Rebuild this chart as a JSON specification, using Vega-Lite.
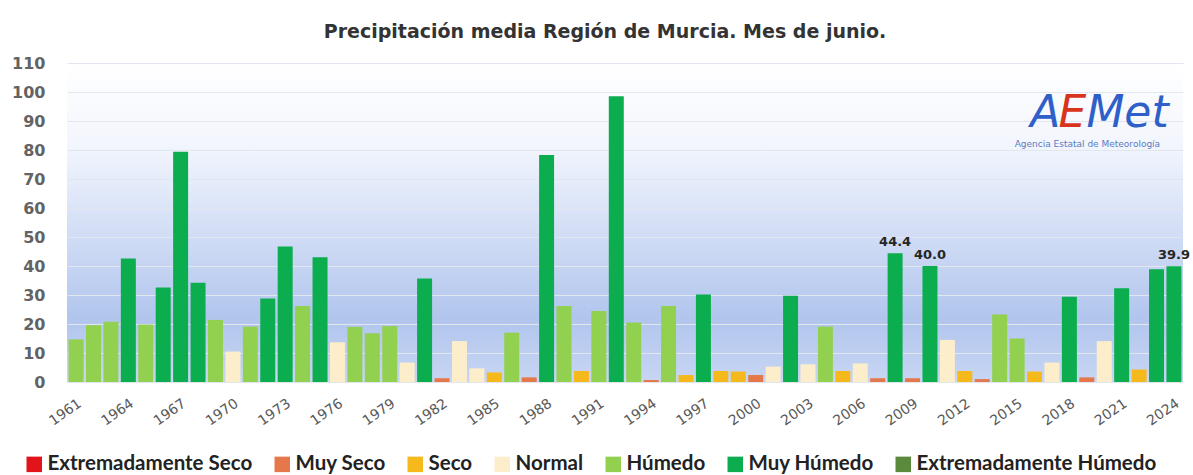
{
  "$schema": "https://vega.github.io/schema/vega-lite/v6.json",
  "autosize": {"type": "none"},
  "padding": {"left": 67, "top": 63, "right": 10, "bottom": 93},
  "width": 1116,
  "height": 319,
  "background": "#ffffff",
  "view": {
    "stroke": null,
    "fill": {"gradient": "linear", "x1": 0, "y1": 0, "x2": 0, "y2": 1,
      "stops": [
        {"offset": 0, "color": "#ffffff"},
        {"offset": 0.25, "color": "#f3f6fd"},
        {"offset": 0.55, "color": "#d0dcf5"},
        {"offset": 0.8, "color": "#b1c5ed"},
        {"offset": 1, "color": "#c8d6f3"}
      ]}
  },
  "title": {
    "text": "Precipitación media Región de Murcia. Mes de junio.",
    "font": "DejaVu Sans",
    "fontSize": 19,
    "fontWeight": "bold",
    "color": "#333333",
    "anchor": "middle",
    "dx": -20,
    "offset": 13
  },
  "data": {
    "values": [
      {"year": 1961, "value": 14.7, "cat": "Húmedo"},
      {"year": 1962, "value": 19.6, "cat": "Húmedo"},
      {"year": 1963, "value": 20.8, "cat": "Húmedo"},
      {"year": 1964, "value": 42.6, "cat": "Muy Húmedo"},
      {"year": 1965, "value": 19.8, "cat": "Húmedo"},
      {"year": 1966, "value": 32.6, "cat": "Muy Húmedo"},
      {"year": 1967, "value": 79.4, "cat": "Muy Húmedo"},
      {"year": 1968, "value": 34.2, "cat": "Muy Húmedo"},
      {"year": 1969, "value": 21.4, "cat": "Húmedo"},
      {"year": 1970, "value": 10.5, "cat": "Normal"},
      {"year": 1971, "value": 19.1, "cat": "Húmedo"},
      {"year": 1972, "value": 28.8, "cat": "Muy Húmedo"},
      {"year": 1973, "value": 46.7, "cat": "Muy Húmedo"},
      {"year": 1974, "value": 26.2, "cat": "Húmedo"},
      {"year": 1975, "value": 43.0, "cat": "Muy Húmedo"},
      {"year": 1976, "value": 13.7, "cat": "Normal"},
      {"year": 1977, "value": 19.0, "cat": "Húmedo"},
      {"year": 1978, "value": 16.8, "cat": "Húmedo"},
      {"year": 1979, "value": 19.3, "cat": "Húmedo"},
      {"year": 1980, "value": 6.7, "cat": "Normal"},
      {"year": 1981, "value": 35.7, "cat": "Muy Húmedo"},
      {"year": 1982, "value": 1.3, "cat": "Muy Seco"},
      {"year": 1983, "value": 14.1, "cat": "Normal"},
      {"year": 1984, "value": 4.7, "cat": "Normal"},
      {"year": 1985, "value": 3.3, "cat": "Seco"},
      {"year": 1986, "value": 17.0, "cat": "Húmedo"},
      {"year": 1987, "value": 1.6, "cat": "Muy Seco"},
      {"year": 1988, "value": 78.3, "cat": "Muy Húmedo"},
      {"year": 1989, "value": 26.2, "cat": "Húmedo"},
      {"year": 1990, "value": 3.8, "cat": "Seco"},
      {"year": 1991, "value": 24.5, "cat": "Húmedo"},
      {"year": 1992, "value": 98.5, "cat": "Muy Húmedo"},
      {"year": 1993, "value": 20.5, "cat": "Húmedo"},
      {"year": 1994, "value": 0.7, "cat": "Muy Seco"},
      {"year": 1995, "value": 26.2, "cat": "Húmedo"},
      {"year": 1996, "value": 2.4, "cat": "Seco"},
      {"year": 1997, "value": 30.2, "cat": "Muy Húmedo"},
      {"year": 1998, "value": 3.8, "cat": "Seco"},
      {"year": 1999, "value": 3.6, "cat": "Seco"},
      {"year": 2000, "value": 2.4, "cat": "Muy Seco"},
      {"year": 2001, "value": 5.3, "cat": "Normal"},
      {"year": 2002, "value": 29.7, "cat": "Muy Húmedo"},
      {"year": 2003, "value": 6.1, "cat": "Normal"},
      {"year": 2004, "value": 19.1, "cat": "Húmedo"},
      {"year": 2005, "value": 3.8, "cat": "Seco"},
      {"year": 2006, "value": 6.4, "cat": "Normal"},
      {"year": 2007, "value": 1.3, "cat": "Muy Seco"},
      {"year": 2008, "value": 44.4, "cat": "Muy Húmedo"},
      {"year": 2009, "value": 1.3, "cat": "Muy Seco"},
      {"year": 2010, "value": 40.0, "cat": "Muy Húmedo"},
      {"year": 2011, "value": 14.5, "cat": "Normal"},
      {"year": 2012, "value": 3.8, "cat": "Seco"},
      {"year": 2013, "value": 1.0, "cat": "Muy Seco"},
      {"year": 2014, "value": 23.3, "cat": "Húmedo"},
      {"year": 2015, "value": 15.0, "cat": "Húmedo"},
      {"year": 2016, "value": 3.6, "cat": "Seco"},
      {"year": 2017, "value": 6.7, "cat": "Normal"},
      {"year": 2018, "value": 29.4, "cat": "Muy Húmedo"},
      {"year": 2019, "value": 1.6, "cat": "Muy Seco"},
      {"year": 2020, "value": 14.1, "cat": "Normal"},
      {"year": 2021, "value": 32.3, "cat": "Muy Húmedo"},
      {"year": 2022, "value": 4.3, "cat": "Seco"},
      {"year": 2023, "value": 38.9, "cat": "Muy Húmedo"},
      {"year": 2024, "value": 39.9, "cat": "Muy Húmedo"}
    ]
  },
  "encoding": {
    "x": {
      "field": "year",
      "type": "ordinal",
      "scale": {"paddingInner": 0.14, "paddingOuter": 0.09},
      "axis": {
        "title": null,
        "values": [1961, 1964, 1967, 1970, 1973, 1976, 1979, 1982, 1985, 1988, 1991, 1994, 1997, 2000, 2003, 2006, 2009, 2012, 2015, 2018, 2021, 2024],
        "labelAngle": -35,
        "labelFont": "DejaVu Sans",
        "labelFontSize": 14,
        "labelColor": "#595959",
        "labelPadding": 14,
        "ticks": false,
        "domain": false,
        "grid": false
      }
    }
  },
  "layer": [
    {
      "mark": {"type": "bar"},
      "encoding": {
        "y": {
          "field": "value",
          "type": "quantitative",
          "scale": {"domain": [0, 110], "nice": false},
          "axis": {
            "title": null,
            "values": [0, 10, 20, 30, 40, 50, 60, 70, 80, 90, 100, 110],
            "tickCount": 20,
            "labelOverlap": false,
            "labelBound": false,
            "labelFont": "DejaVu Sans",
            "labelFontSize": 16,
            "labelFontWeight": "bold",
            "labelColor": "#636363",
            "labelPadding": 22,
            "ticks": false,
            "domain": false,
            "grid": true,
            "gridColor": "#e1e6ef",
            "gridWidth": 1.2
          }
        },
        "color": {
          "field": "cat",
          "type": "nominal",
          "scale": {
            "domain": ["Extremadamente Seco", "Muy Seco", "Seco", "Normal", "Húmedo", "Muy Húmedo", "Extremadamente Húmedo"],
            "range": ["#e3131b", "#e4784a", "#f6b91c", "#fdeecb", "#92d050", "#0cad4e", "#5b8a3c"]
          },
          "legend": {
            "title": null,
            "orient": "none",
            "direction": "horizontal",
            "columns": 7,
            "legendX": -43,
            "legendY": 391,
            "symbolType": "square",
            "symbolSize": 240,
            "symbolStrokeWidth": 0,
            "symbolOpacity": 1,
            "labelFont": "Lato",
            "labelFontSize": 20.5,
            "labelFontWeight": "bold",
            "labelColor": "#222222",
            "labelOffset": 3,
            "columnPadding": 19,
            "labelLimit": 400
          }
        }
      }
    },
    {
      "transform": [{"filter": "datum.year == 2008 || datum.year == 2010 || datum.year == 2024"}],
      "mark": {"type": "text", "font": "DejaVu Sans", "fontSize": 13, "fontWeight": "bold", "color": "#262626", "baseline": "bottom", "dy": -4},
      "encoding": {
        "y": {"field": "value", "type": "quantitative"},
        "text": {"field": "value", "type": "quantitative", "format": ".1f"}
      }
    },
    {
      "data": {"values": [{}]},
      "mark": {"type": "text", "font": "DejaVu Sans", "fontStyle": "italic", "fontWeight": 300, "fontSize": 44, "color": "#2f5fc8", "align": "right", "baseline": "alphabetic", "dx": -9},
      "encoding": {"x": {"datum": 2018}, "y": {"datum": 88}, "text": {"value": "A"}}
    },
    {
      "data": {"values": [{}]},
      "mark": {"type": "text", "font": "DejaVu Sans", "fontStyle": "italic", "fontWeight": 300, "fontSize": 44, "color": "#d8341c", "align": "left", "baseline": "alphabetic", "dx": -11},
      "encoding": {"x": {"datum": 2018}, "y": {"datum": 88}, "text": {"value": "E"}}
    },
    {
      "data": {"values": [{}]},
      "mark": {"type": "text", "font": "DejaVu Sans", "fontStyle": "italic", "fontWeight": 300, "fontSize": 44, "color": "#2f5fc8", "align": "left", "baseline": "alphabetic", "dx": 17},
      "encoding": {"x": {"datum": 2018}, "y": {"datum": 88}, "text": {"value": "Met"}}
    },
    {
      "data": {"values": [{}]},
      "mark": {"type": "text", "font": "DejaVu Sans", "fontSize": 9, "color": "#5a7bbf", "align": "center", "baseline": "middle", "dx": 18},
      "encoding": {"x": {"datum": 2018}, "y": {"datum": 82.2}, "text": {"value": "Agencia Estatal de Meteorología"}}
    }
  ]
}
